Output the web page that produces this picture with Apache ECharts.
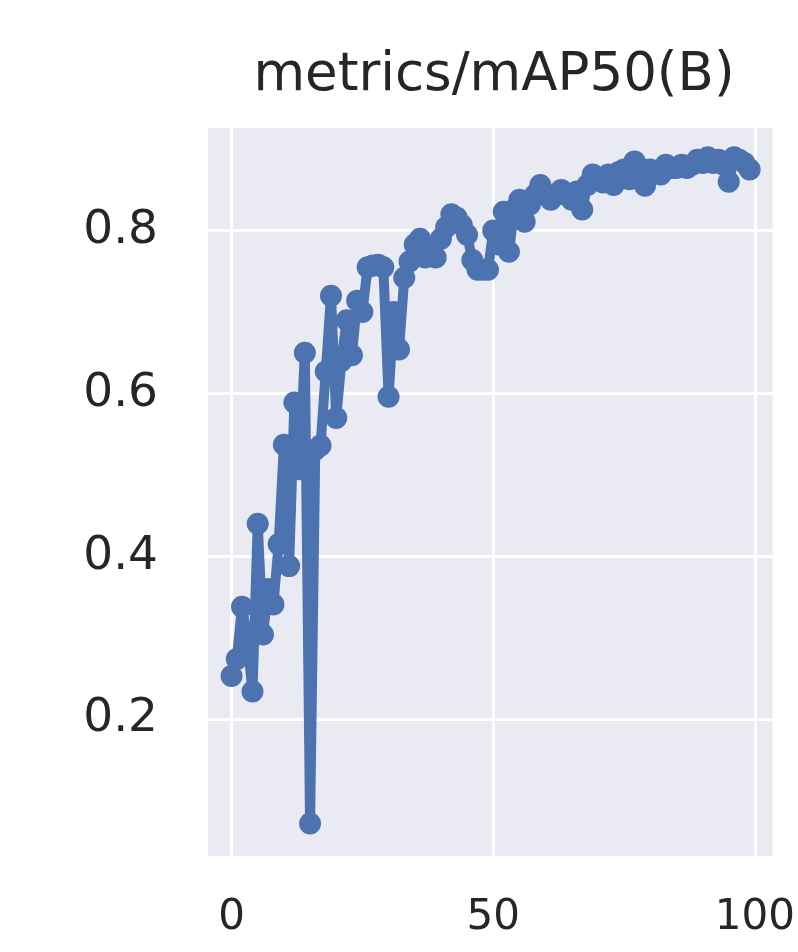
<!DOCTYPE html>
<html>
<head>
<meta charset="utf-8">
<script src="https://cdn.jsdelivr.net/npm/echarts@6/dist/echarts.min.js"></script>
<style>html,body{margin:0;padding:0;background:#fff;}#c{width:798px;height:952px;}</style>
</head>
<body>
<div id="c"></div>
<script>
const titleText = 'metrics/mAP50(B)';
const epochs = Array.from({length: 100}, (_, i) => i);
const map50 = [
  0.253, 0.274, 0.338, 0.298, 0.234, 0.440, 0.304, 0.360, 0.341, 0.415,
  0.537, 0.388, 0.589, 0.507, 0.650, 0.072, 0.531, 0.536, 0.627, 0.720,
  0.570, 0.640, 0.690, 0.647, 0.714, 0.700, 0.755, 0.757, 0.758, 0.755,
  0.596, 0.700, 0.654, 0.742, 0.762, 0.783, 0.790, 0.767, 0.777, 0.767,
  0.790, 0.804, 0.820, 0.816, 0.807, 0.795, 0.764, 0.752, 0.752, 0.752,
  0.800, 0.783, 0.823, 0.774, 0.826, 0.838, 0.811, 0.832, 0.844, 0.856,
  0.844, 0.838, 0.844, 0.850, 0.844, 0.838, 0.848, 0.826, 0.856, 0.869,
  0.865, 0.859, 0.869, 0.856, 0.872, 0.875, 0.863, 0.885, 0.877, 0.855,
  0.875, 0.872, 0.869, 0.881, 0.877, 0.877, 0.881, 0.877, 0.881, 0.887,
  0.883, 0.890, 0.883, 0.887, 0.881, 0.860, 0.890, 0.887, 0.883, 0.875
];
const xTicks = [0, 50, 100];
const yTicks = [0.2, 0.4, 0.6, 0.8];

const chart = echarts.init(document.getElementById('c'), null, {renderer: 'canvas'});
const font = 'DejaVu Sans';
chart.setOption({
  animation: false,
  backgroundColor: '#ffffff',
  title: {
    text: titleText,
    left: 489,
    top: 45,
    textAlign: 'center',
    textStyle: {fontFamily: font, fontSize: 53, fontWeight: 'normal', color: '#262626'}
  },
  grid: {
    left: 208, right: 18, top: 128, bottom: 96,
    show: true, backgroundColor: '#EAEAF2', borderWidth: 0
  },
  xAxis: {
    type: 'value',
    min: -4.5, max: 103.4,
    axisLine: {show: false},
    axisTick: {show: false, customValues: xTicks},
    axisLabel: {customValues: xTicks, fontFamily: font, fontSize: 42, color: '#262626', margin: 41,
      formatter: v => String(v)},
    splitLine: {show: true, lineStyle: {color: '#ffffff', width: 3}}
  },
  yAxis: {
    type: 'value',
    min: 0.032, max: 0.926,
    axisLine: {show: false},
    axisTick: {show: false, customValues: yTicks},
    axisLabel: {customValues: yTicks, fontFamily: font, fontSize: 47, color: '#262626', margin: 50,
      formatter: v => v.toFixed(1)},
    splitLine: {show: true, lineStyle: {color: '#ffffff', width: 3}}
  },
  series: [{
    type: 'line',
    data: epochs.map((x, i) => [x, map50[i]]),
    symbol: 'circle',
    symbolSize: 22,
    showAllSymbol: true,
    itemStyle: {color: '#4C72B0'},
    lineStyle: {color: '#4C72B0', width: 10},
    clip: false
  }]
});
</script>
</body>
</html>
